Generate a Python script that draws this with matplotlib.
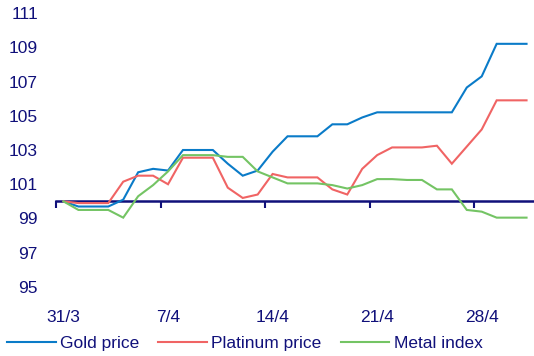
import matplotlib
matplotlib.use("Agg")
import matplotlib.pyplot as plt
import numpy as np

plt.rcParams['font.family'] = ['Liberation Sans', 'DejaVu Sans']

# Daily index values, 31/3 .. 1/5 (31/3 = 100)
gold = [100.0, 99.7, 99.7, 99.7, 100.1, 101.7, 101.9, 101.8, 103.0, 103.0,
        103.0, 102.2, 101.5, 101.8, 102.9, 103.8, 103.8, 103.8, 104.5, 104.5,
        104.9, 105.2, 105.2, 105.2, 105.2, 105.2, 105.2, 106.65, 107.3, 109.2,
        109.2, 109.2]
platinum = [100.0, 99.9, 99.9, 99.9, 101.15, 101.5, 101.5, 101.0, 102.55, 102.55,
            102.55, 100.8, 100.2, 100.4, 101.6, 101.4, 101.4, 101.4, 100.7, 100.4,
            101.9, 102.7, 103.15, 103.15, 103.15, 103.25, 102.2, 103.2, 104.2, 105.9,
            105.9, 105.9]
metal = [100.0, 99.5, 99.5, 99.5, 99.05, 100.3, 100.95, 101.75, 102.7, 102.7,
         102.7, 102.6, 102.6, 101.75, 101.4, 101.05, 101.05, 101.05, 100.95, 100.75,
         100.95, 101.3, 101.3, 101.25, 101.25, 100.7, 100.7, 99.5, 99.4, 99.05,
         99.05, 99.05]
series_names = ['Gold price', 'Platinum price', 'Metal index']
date_labels = ['31/3', '7/4', '14/4', '21/4', '28/4']
label_days = [0, 7, 14, 21, 28]
y_ticks = [95, 97, 99, 101, 103, 105, 107, 109, 111]

navy = '#10107a'
colors = ['#0a7bc8', '#f06464', '#74c464']
fs = 12.5

days = np.arange(len(gold))

fig = plt.figure(figsize=(5.34, 3.56), dpi=100)
ax = fig.add_axes([56 / 534, 69 / 356, 478 / 534, 274 / 356])

for vals, name, c in zip([gold, platinum, metal], series_names, colors):
    ax.plot(days, vals, color=c, lw=1.5, label=name, solid_joinstyle='miter')

ax.set_xlim(-0.5, 31.5)
ax.set_ylim(95, 111)

# horizontal axis crosses at 100
for s in ['left', 'right', 'top']:
    ax.spines[s].set_visible(False)
ax.spines['bottom'].set_position(('data', 100))
ax.spines['bottom'].set_color(navy)
ax.spines['bottom'].set_linewidth(1.8)
ax.spines['bottom'].set_zorder(1)
ax.set_xticks([d - 0.5 for d in label_days])
ax.set_xticklabels([])
ax.tick_params(axis='x', direction='out', length=5, width=1.5, color=navy)

for d, lab in zip(label_days, date_labels):
    ax.text(d, -0.112, lab, transform=ax.get_xaxis_transform(), ha='center',
            va='center', fontsize=fs, color=navy)

ax.set_yticks(y_ticks)
ax.tick_params(axis='y', length=0, pad=13, labelsize=fs, labelcolor=navy)

fig.legend(loc='center left', bbox_to_anchor=(7 / 534, 13 / 356), ncol=3,
           frameon=False, fontsize=fs, labelcolor=navy, handlelength=2.8,
           handletextpad=0.25, columnspacing=1.1, borderpad=0, borderaxespad=0)

fig.savefig('out.png', dpi=100)
